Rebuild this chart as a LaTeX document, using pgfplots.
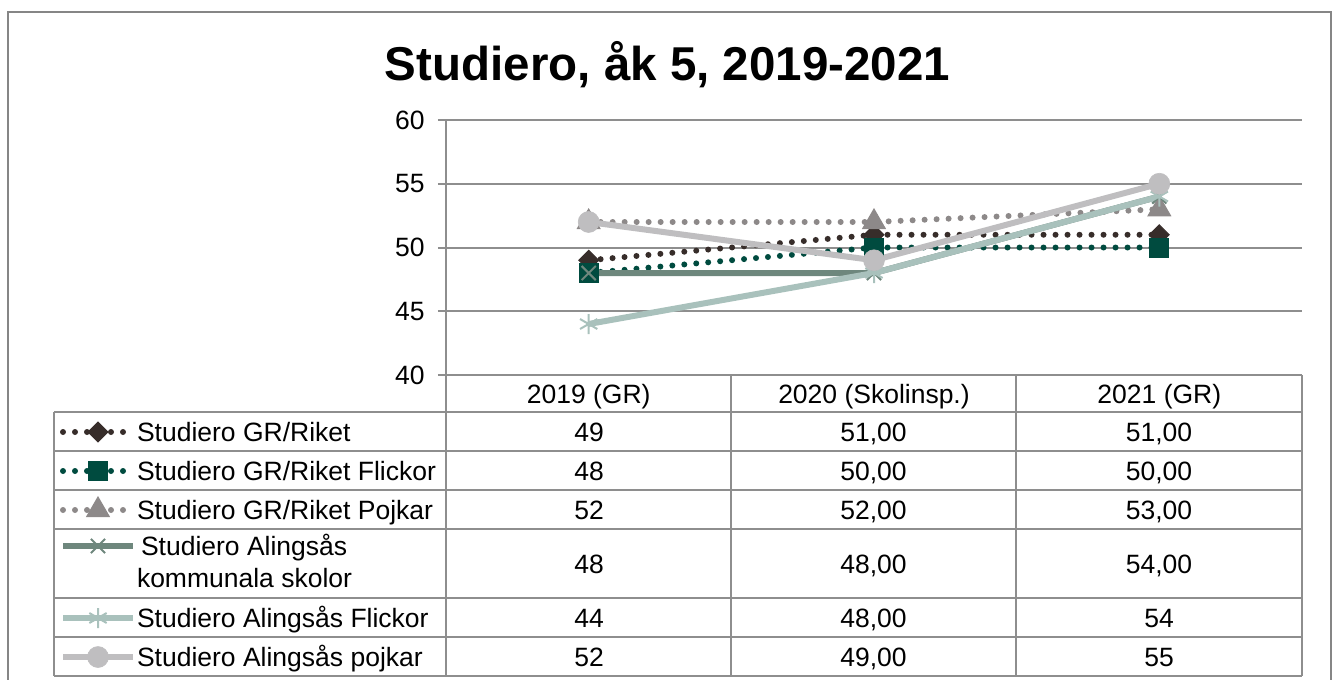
\documentclass[border=0pt]{standalone}
\usepackage{fontspec}
\setmainfont{Liberation Sans}
\usepackage{pgfplots}
\pgfplotsset{compat=1.18}
\definecolor{cA}{HTML}{372D2A}
\definecolor{cB}{HTML}{004B3F}
\definecolor{cC}{HTML}{8D8989}
\definecolor{cD}{HTML}{6E877D}
\definecolor{cE}{HTML}{A9C1BC}
\definecolor{cF}{HTML}{BFBEC0}
\definecolor{gridc}{HTML}{8E8E8E}
\definecolor{framec}{HTML}{868686}
\begin{document}
\begin{tikzpicture}[font=\fontsize{13.25pt}{16pt}\selectfont]
\useasboundingbox (0pt,0pt) rectangle (670pt,-340pt);
\begin{scope}[x=0.5pt,y=-0.5pt]
  \draw[framec, line width=1pt] (8,12) rectangle (1331,720);
  \node[anchor=base, font=\bfseries\fontsize{23.75pt}{28pt}\selectfont] at (667.5,80) {Studiero, åk 5, 2019-2021};
\end{scope}
\begin{axis}[
  at={(223pt,-60pt)}, anchor=north west,
  width=428pt, height=127.5pt, scale only axis,
  xmin=-0.5, xmax=2.5, ymin=40, ymax=60,
  ytick={40,45,50,55,60},
  xtick={0,1,2},
  xticklabels={2019 (GR),2020 (Skolinsp.),2021 (GR)},
  axis lines*=left,
  axis line style={gridc, line width=1pt},
  ymajorgrids, grid style={gridc, line width=1pt},
  major x tick style={draw=none},
  major y tick style={gridc, line width=1pt},
  ytick align=outside, major tick length=4pt,
  /pgf/number format/assume math mode=true,
  yticklabel style={inner sep=0pt, anchor=east, xshift=-6.5pt},
  xticklabel style={inner sep=0pt, anchor=base, yshift=-14pt},
  clip=false,
  legend image code/.code={
    \draw[mark repeat=2,mark phase=2,#1] plot coordinates {(0pt,4.5pt)(17.5pt,4.5pt)(35pt,4.5pt)};
  },
  legend style={at={(-0.45093,-0.14510)}, anchor=north west, draw=none, fill=none,
    inner sep=0pt, outer sep=0pt, row sep=0pt, column sep=0.5pt,
    cells={anchor=base west},
    nodes={inner sep=0pt, text height=14.5pt, text depth=5pt}},
]
\addplot[color=cA, line width=3pt, line cap=round, dash pattern=on 0pt off 6pt,
  mark=square*, mark size=3.5pt, mark options={solid, rotate=45, fill=cA, line width=0.5pt}]
  coordinates {(0,49)(1,51)(2,51)};
\addlegendentry{Studiero GR/Riket}
\addplot[color=cB, line width=3pt, line cap=round, dash pattern=on 0pt off 6pt,
  mark=square*, mark size=4.75pt, mark options={solid, fill=cB, line width=0.5pt}]
  coordinates {(0,48)(1,50)(2,50)};
\addlegendentry{Studiero GR/Riket Flickor}
\addplot[color=cC, line width=3pt, line cap=round, dash pattern=on 0pt off 6pt,
  mark=triangle*, mark size=6.5pt, mark options={solid, fill=cC, line width=0.5pt}]
  coordinates {(0,52)(1,52)(2,53)};
\addlegendentry{Studiero GR/Riket Pojkar}
\addplot[color=cD, line width=3pt, line join=round,
  mark=x, mark size=5pt, mark options={solid, line width=1pt}]
  coordinates {(0,48)(1,48)(2,54)};
\addlegendentry[text height=13pt, text depth=21.5pt]{\parbox[t]{160pt}{\hspace*{2pt}Studiero Alingsås\\kommunala skolor}}
\addplot[color=cE, line width=3pt, line join=round,
  mark=asterisk, mark size=5pt, mark options={solid, line width=1pt}]
  coordinates {(0,44)(1,48)(2,54)};
\addlegendentry{Studiero Alingsås Flickor}
\addplot[color=cF, line width=3pt, line join=round,
  mark=*, mark size=5.25pt, mark options={solid, fill=cF, line width=0.3pt}]
  coordinates {(0,52)(1,49)(2,55)};
\addlegendentry{Studiero Alingsås pojkar}
\end{axis}
\begin{scope}[x=0.5pt,y=-0.5pt]
  \foreach \yy in {412,451,490,529,598,637,676} {\draw[gridc, line width=1pt] (54,\yy) -- (1302,\yy);}
  \draw[gridc, line width=1pt] (54,412) -- (54,676);
  \draw[gridc, line width=1pt] (446,375) -- (446,676);
  \foreach \xx in {731,1016,1302} {\draw[gridc, line width=1pt] (\xx,375) -- (\xx,676);}
  % values
  \foreach \yy/\a/\b/\c in {441/49/{51,00}/{51,00}, 480/48/{50,00}/{50,00}, 519/52/{52,00}/{53,00}, 573/48/{48,00}/{54,00}, 627/44/{48,00}/54, 666/52/{49,00}/55} {
    \node[anchor=base, inner sep=0pt] at (589,\yy) {\a};
    \node[anchor=base, inner sep=0pt] at (873.5,\yy) {\b};
    \node[anchor=base, inner sep=0pt] at (1159,\yy) {\c};
  }
\end{scope}
\end{tikzpicture}
\end{document}
